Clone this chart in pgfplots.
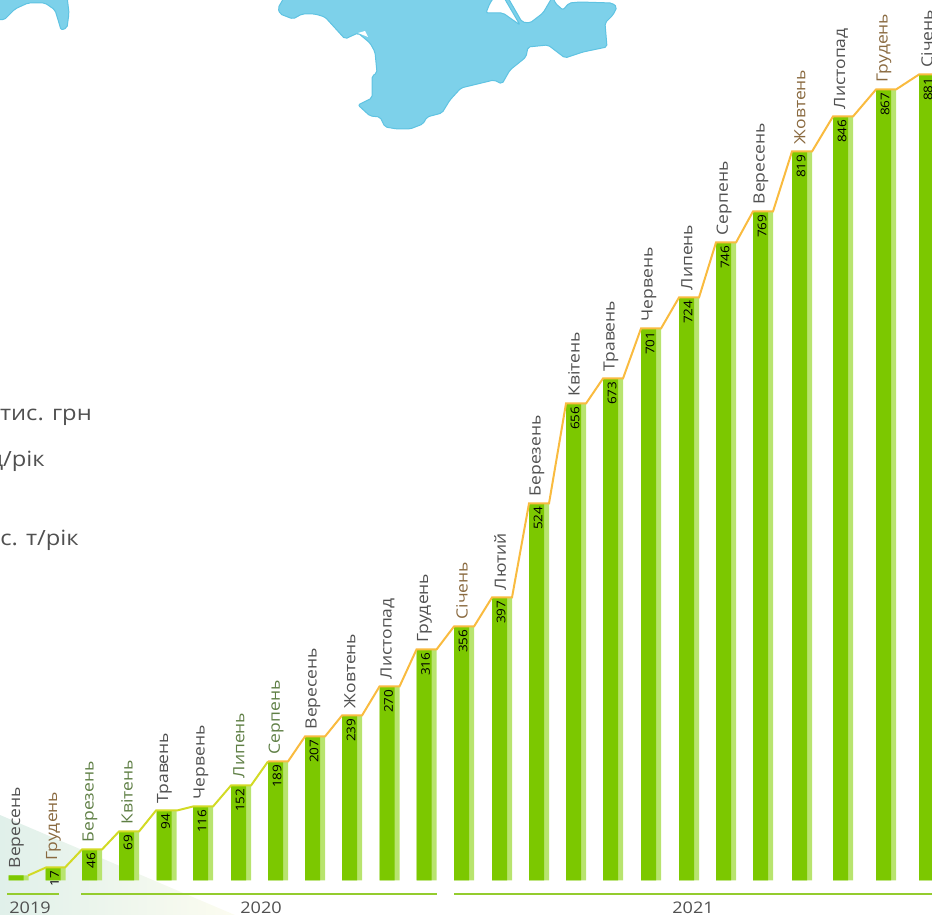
\documentclass[border=0pt]{standalone}
\usepackage{pgfplots}
\usepackage{pgfplotstable}
\usepackage{fontspec}
\setmainfont{Open Sans}[FakeStretch=1.13]
\pgfplotsset{compat=1.18}
\definecolor{barD}{HTML}{7CC800}
\definecolor{barL}{HTML}{B8E46E}
\definecolor{lineO}{HTML}{F9BB3F}
\definecolor{lineY}{HTML}{D2DA25}
\definecolor{mapF}{HTML}{7DD1EA}
\definecolor{mapE}{HTML}{5FC3E2}
\definecolor{txt}{HTML}{505050}
\definecolor{mg}{HTML}{5F7F45}
\definecolor{mb}{HTML}{8A6A40}
\definecolor{yearl}{HTML}{94CC2E}
\definecolor{bgA}{HTML}{E0F0EA}
\definecolor{bgB}{HTML}{FCFCF0}
\pgfplotstableread{
x h val mon
18.5 5 {} Вересень
55.5 13 17 {\textcolor{mb}{Грудень}}
92 31 46 {\textcolor{mg}{Березень}}
129 49 69 {\textcolor{mg}{Квітень}}
166.5 70 94 Травень
203 74 116 Червень
241 95 152 {\textcolor{mg}{Липень}}
278 119 189 {\textcolor{mg}{Серпень}}
315 144 207 Вересень
352 165 239 Жовтень
389.5 194 270 Листопад
426.5 231 316 Грудень
464 254 356 {\textcolor{mb}{Січень}}
502 283 397 Лютий
539 377 524 Березень
576 477 656 Квітень
613 502 673 Травень
651 552 701 Червень
689 583 724 Липень
726 638 746 Серпень
763 669 769 Вересень
802 729 819 {\textcolor{mb}{Жовтень}}
843 764 846 Листопад
886 791 867 {\textcolor{mb}{Грудень}}
929 806 881 Січень
}\bars
\begin{document}
\begin{tikzpicture}
\path[use as bounding box,clip] (0,0) rectangle (932pt,915pt);
\begin{scope}[x=1pt,y=-1pt,yshift=915pt]
\shade[left color=bgA,right color=bgB] (0,815) -- (235,915) -- (0,915) -- cycle;
\path[fill=mapF,draw=mapE,line width=1pt,line join=round,rounded corners=2pt]
 (285,-4) -- (278,8) -- (280,14) -- (293,19) -- (302,14) -- (315,14) -- (325,17) -- (345,39) -- (358,33) -- (370,43) -- (375,52) -- (377,73) -- (372,76) -- (372,98) -- (358,105) -- (370,116) -- (380,117) -- (385,127) -- (397,129) -- (410,129) -- (423,124) -- (427,117) -- (442,113) -- (450,100) -- (461,88) -- (494,80) -- (502,84) -- (510,70) -- (520,62) -- (526,57) -- (528,47) -- (548,45) -- (565,58) -- (583,52) -- (607,47) -- (605,23) -- (613,15) -- (617,7) -- (612,3) -- (580,2) -- (569,3) -- (563,10) -- (555,3) -- (553,-4) -- (543,13) -- (530,23) -- (522,22) -- (507,-4) -- (503,-4) -- (520,25) -- (503,13) -- (486,13) -- (490,3) -- (495,-4) -- cycle;
\path[fill=white] (358,33) -- (365,31) -- (368,37) -- cycle;
\path[fill=mapF,draw=mapE,line width=1pt,line join=round,rounded corners=2pt]
 (-4,-4) -- (-4,19) -- (4,20) -- (15,9) -- (28,3) -- (45,3) -- (55,10) -- (59,23) -- (61,30) -- (67,28) -- (69,13) -- (67,-4) -- cycle;
\node[anchor=base east,inner sep=0pt,text=txt,font=\fontsize{21}{21}\selectfont] at (92,421) {тис. грн};
\node[anchor=base east,inner sep=0pt,text=txt,font=\fontsize{21}{21}\selectfont] at (45,467) {ц/рік};
\node[anchor=base east,inner sep=0pt,text=txt,font=\fontsize{21}{21}\selectfont] at (79,546) {тис. т/рік};
\node[text=txt,font=\fontsize{16}{16}\selectfont] at (30,908) {2019};
\node[text=txt,font=\fontsize{16}{16}\selectfont] at (261,908) {2020};
\node[text=txt,font=\fontsize{16}{16}\selectfont] at (693,908) {2021};
\end{scope}
\begin{axis}[at={(0,0)},anchor=south west,scale only axis,width=932pt,height=915pt,
  axis lines=none,xmin=0,xmax=932,ymin=-34.5,ymax=880.5,clip=true]
\addplot[ybar,bar width=20pt,bar shift=0pt,fill=barL,draw=none] table[x=x,y=h] {\bars};
\addplot[ybar,bar width=15pt,bar shift=-2.5pt,fill=barD,draw=none,
  point meta=explicit symbolic,
  nodes near coords,
  every node near coord/.append style={rotate=90,anchor=east,inner sep=1pt,xshift=-2pt,yshift=1pt,text=black,font=\fontsize{12}{12}\selectfont}]
  table[x=x,y=h,meta=val] {\bars};
\addplot[lineY,line width=2pt,mark=none] coordinates {(28,5)(46,13)(65,13)(82,31)(102,31)(119,49)(139,49)(156,70)(177,70)(193,74)(213,74)(231,95)(251,95)(268,119)};
\addplot[lineO,line width=2pt,mark=none] coordinates {(268,119)(288,119)(305,144)(325,144)(342,165)(362,165)(379.5,194)(399.5,194)(416.5,231)(436.5,231)(454,254)(474,254)(492,283)(512,283)(529,377)(549,377)(566,477)(586,477)(603,502)(623,502)(641,552)(661,552)(679,583)(699,583)(716,638)(736,638)(753,669)(773,669)(792,729)(812,729)(833,764)(853,764)(876,791)(896,791)(919,806)(939,806)};
\addplot[draw=none,mark=none,
  point meta=explicit symbolic,
  nodes near coords,
  every node near coord/.append style={rotate=90,anchor=west,inner sep=0pt,xshift=7pt,yshift=2pt,text=txt,font=\fontsize{15.5}{15.5}\selectfont}]
  table[x=x,y=h,meta=mon] {\bars};
\addplot[yearl,line width=2pt,mark=none] coordinates {(7,-13.5)(59,-13.5)};
\addplot[yearl,line width=2pt,mark=none] coordinates {(81,-13.5)(437,-13.5)};
\addplot[yearl,line width=2pt,mark=none] coordinates {(454,-13.5)(932,-13.5)};
\end{axis}
\end{tikzpicture}
\end{document}
